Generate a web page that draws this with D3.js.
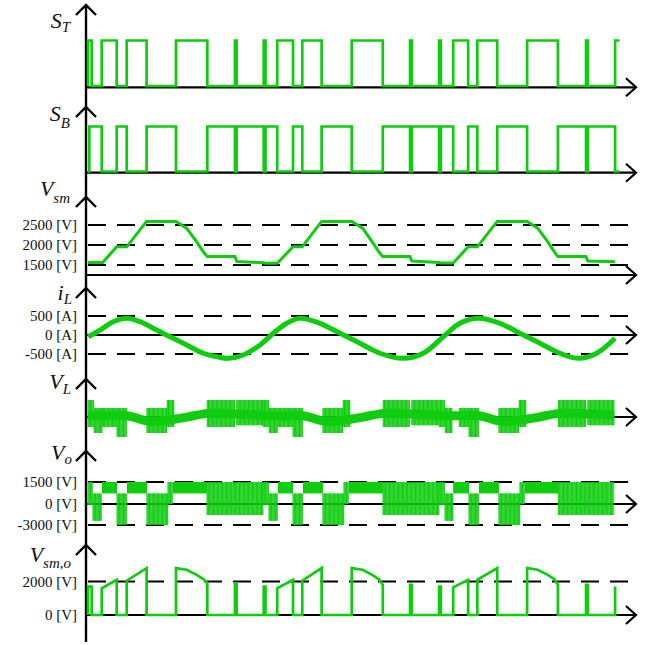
<!DOCTYPE html>
<meta charset="utf-8">
<style>
body {
    margin: 0px;
    background: white;
}
.tick-label {
  font-family: "Liberation Serif", serif;
  font-size: 15px;
  fill: #111;
}
.sig-label {
  font-family: "Liberation Serif", serif;
  font-style: italic;
  fill: #111;
}
</style>
<body>
<script src="https://d3js.org/d3.v7.min.js"></script>
<script>
var width = 652,
    height = 645,
    green = "#0fcc0f"

// time in ms (three 50 Hz cycles)

// intervals where the top switch is on
var stHigh = [[0, 0.42], [1.56, 3.26], [4.40, 6.66], [10.0, 13.56], [16.7, 16.9], [19.97, 20.17],
  [21.5, 23.3], [24.35, 26.55], [29.97, 33.5], [36.6, 36.8], [39.9, 40.1],
  [41.5, 43.2], [44.24, 46.5], [49.9, 53.4], [56.6, 56.8], [59.9, 60.4]]

// intervals where the bottom switch is on
var sbHigh = [[0.15, 1.56], [3.26, 4.40], [6.66, 10.0], [13.56, 16.7], [16.9, 19.97], [20.17, 21.5],
  [23.3, 24.35], [26.55, 29.97], [33.5, 36.6], [36.8, 39.9], [40.1, 41.5],
  [43.2, 44.24], [46.5, 49.9], [53.4, 56.6], [56.8, 59.9]]

// submodule capacitor voltage [t, V]
var vsm = [[0, 1565], [1.67, 1565], [3.26, 1955], [4.40, 1955], [6.66, 2590], [10.0, 2590],
  [11.2, 2420], [12.35, 2080], [13.1, 1830], [13.56, 1710], [16.7, 1710], [16.9, 1590],
  [19.97, 1555], [20.17, 1545], [21.5, 1545], [23.3, 1955], [24.35, 1955], [26.55, 2590],
  [29.97, 2590], [31.2, 2420], [32.3, 2080], [33.05, 1830], [33.5, 1710], [36.6, 1710],
  [36.8, 1600], [39.9, 1560], [40.1, 1550], [41.5, 1550], [43.2, 1955], [44.24, 1955],
  [46.5, 2590], [49.9, 2590], [51.1, 2420], [52.25, 2080], [53.0, 1830], [53.4, 1710],
  [56.6, 1710], [56.8, 1600], [59.9, 1580]]

// inductor current [t, A]
var iL = [[0.03, -45], [1.36, 130], [2.88, 350], [4.40, 440], [5.91, 350], [7.81, 130],
  [9.32, -45], [11.22, -263], [13.10, -480], [14.63, -570], [15.94, -615], [17.65, -526],
  [19.55, -263], [21.06, 45], [22.58, 308], [24.09, 440], [26.36, 308], [28.64, 45],
  [30.91, -218], [33.18, -480], [35.83, -615], [38.10, -480], [40.38, -45], [42.27, 308],
  [44.35, 440], [46.82, 308], [49.09, 45], [51.36, -218], [53.64, -480], [55.72, -615],
  [57.81, -480], [59.89, -87]]

// inductor voltage: slow envelope centre [t, V]
var vlCenter = [[0, 50], [1.6, 50], [3.3, 50], [4.45, 80], [5.6, -50], [6.7, -187], [8.0, -180],
  [9.8, -93], [11.5, 0], [13.55, 187], [16.8, 120], [19.9, 80],
  [20.6, 50], [21.6, 50], [23.3, 50], [24.45, 80], [25.6, -50], [26.7, -187], [28.0, -180],
  [29.8, -93], [31.5, 0], [33.55, 187], [36.8, 120], [39.9, 80],
  [40.6, 50], [41.6, 50], [43.3, 50], [44.45, 80], [45.6, -50], [46.7, -187], [48.0, -180],
  [49.8, -93], [51.5, 0], [53.45, 187], [56.8, 120], [59.8, 80]]

// inductor voltage: switching bursts [t0, t1, high V, low V]
var vlBursts = [[0, 0.7, 680, -400], [0.7, 1.6, 360, -640], [1.6, 3.3, 360, -400], [3.3, 4.45, 360, -800],
  [6.7, 9.0, 360, -640], [9.0, 9.8, 680, -400], [13.55, 16.7, 680, -400], [16.9, 19.9, 680, -330],
  [19.9, 20.6, 680, -400], [20.6, 21.6, 360, -640], [21.6, 23.3, 360, -400], [23.3, 24.45, 360, -800],
  [26.7, 29.0, 360, -640], [29.0, 29.8, 680, -400], [33.55, 36.6, 680, -400], [36.8, 39.9, 680, -330],
  [39.9, 40.6, 680, -400], [40.6, 41.4, 360, -640], [42.2, 43.3, 360, -400], [43.3, 44.45, 360, -800],
  [46.7, 49.0, 360, -640], [49.0, 49.8, 680, -400], [53.45, 56.6, 680, -400], [56.8, 59.8, 680, -330]]

// output voltage blocks [t0, t1, high V, low V, steady]
var voBlocks = [[0, 0.57, 1500, -140, 0], [0.57, 1.59, 720, -2400, 0], [1.59, 3.30, 1500, 720, 1],
  [3.30, 4.43, 720, -3000, 0], [4.43, 6.70, 1500, 720, 1], [6.70, 9.09, 720, -3000, 0],
  [9.09, 9.66, 1500, 0, 0], [9.66, 13.52, 1500, 720, 1], [13.52, 19.89, 1500, -1570, 0],
  [19.89, 20.57, 1500, -140, 0], [20.57, 21.59, 720, -2400, 0], [21.59, 23.30, 1500, 720, 1],
  [23.30, 24.43, 720, -3000, 0], [24.43, 26.70, 1500, 720, 1], [26.70, 29.09, 720, -3000, 0],
  [29.09, 29.66, 1500, 0, 0], [29.66, 33.52, 1500, 720, 1], [33.52, 39.89, 1500, -1570, 0],
  [39.89, 40.57, 1500, -140, 0], [40.57, 41.5, 720, -2400, 0], [41.5, 43.30, 1500, 720, 1],
  [43.30, 44.43, 720, -3000, 0], [44.43, 46.70, 1500, 720, 1], [46.70, 49.09, 720, -3000, 0],
  [49.09, 49.66, 1500, 0, 0], [49.66, 53.45, 1500, 720, 1], [53.45, 59.8, 1500, -1570, 0]]

// submodule output voltage pulses, top edge [t, V]
var vsmoPulses = [
  [[0, 1700], [0.42, 1700]],
  [[1.56, 1600], [3.26, 2100]],
  [[4.40, 2050], [6.66, 2800]],
  [[10.0, 2800], [11.2, 2700], [12.35, 2400], [13.1, 2140], [13.56, 1900]],
  [[16.7, 1840], [16.9, 1840]],
  [[19.97, 1700], [20.17, 1700]],
  [[21.5, 1600], [23.3, 2100]],
  [[24.35, 2050], [26.55, 2800]],
  [[29.97, 2800], [31.2, 2700], [32.3, 2400], [33.05, 2140], [33.5, 1800]],
  [[36.6, 1800], [36.8, 1800]],
  [[39.9, 1700], [40.1, 1700]],
  [[41.5, 1650], [43.2, 2100]],
  [[44.24, 2100], [46.5, 2800]],
  [[49.9, 2800], [51.1, 2700], [52.25, 2400], [53.0, 2140], [53.4, 1800]],
  [[56.6, 1800], [56.8, 1800]],
  [[59.9, 1700]]]

var vsmTicks = [2500, 2000, 1500]
var iLTicks = [500, 0, -500]
var voTicks = [1500, 0, -3000]
var vsmoTicks = [2000, 0]

var svg = d3.select("body").append("svg")
    .attr("width", width)
    .attr("height", height)

var x = d3.scaleLinear().domain([0, 60.4]).range([88, 619.5])
var axisX = 86, arrowX = 636

var yST = d3.scaleLinear().domain([0, 1]).range([86, 40.5])
var ySB = d3.scaleLinear().domain([0, 1]).range([171.5, 126.5])
var yVsm = d3.scaleLinear().domain([1250, 2500]).range([275, 225])
var yIL = d3.scaleLinear().domain([-500, 500]).range([354, 316])
var yVL = d3.scaleLinear().domain([-1000, 1000]).range([442, 392])
var yVo = d3.scaleLinear().domain([-3000, 0, 1500]).range([525, 504, 482])
var yVsmo = d3.scaleLinear().domain([0, 2000]).range([615, 581.5])

var panels = [
  {main: "S", sub: "T", lx: 70, ly: 28, sdy: 4, tip: 5, axisY: 87.3},
  {main: "S", sub: "B", lx: 70, ly: 121, sdy: 7, tip: 107, axisY: 172.7},
  {main: "V", sub: "sm", lx: 70, ly: 196, sdy: 7, tip: 197, axisY: yVsm(1250), y: yVsm, dashed: vsmTicks, ticks: vsmTicks, unit: "V"},
  {main: "i", sub: "L", lx: 72, ly: 300, sdy: 4, tip: 288, axisY: yIL(0), y: yIL, dashed: [500, -500], ticks: iLTicks, unit: "A"},
  {main: "V", sub: "L", lx: 71, ly: 389, sdy: 5, tip: 379, axisY: yVL(0)},
  {main: "V", sub: "o", lx: 72, ly: 460, sdy: 4, tip: 451, axisY: yVo(0), y: yVo, dashed: [1500, -3000], ticks: voTicks, unit: "V"},
  {main: "V", sub: "sm,o", lx: 71, ly: 562, sdy: 6, tip: 545, axisY: yVsmo(0), y: yVsmo, dashed: [2000], ticks: vsmoTicks, unit: "V"}
]

var axes = svg.append("g")
var traces = svg.append("g")
var labels = svg.append("g")

// vertical axis
axes.append("line")
    .attr("x1", axisX).attr("x2", axisX)
    .attr("y1", 5).attr("y2", 642)
    .attr("stroke", "black").attr("stroke-width", 2.4)

panels.forEach(function(p) {
  // up arrow
  axes.append("polyline")
      .attr("points", [[axisX - 10, p.tip + 10], [axisX, p.tip], [axisX + 10, p.tip + 10]].join(" "))
      .attr("fill", "none").attr("stroke", "black").attr("stroke-width", 2.4)

  // time axis with arrow
  axes.append("line")
      .attr("x1", axisX).attr("x2", arrowX)
      .attr("y1", p.axisY).attr("y2", p.axisY)
      .attr("stroke", "black").attr("stroke-width", 2.2)
  axes.append("polyline")
      .attr("points", [[arrowX - 10, p.axisY - 9], [arrowX, p.axisY], [arrowX - 10, p.axisY + 9]].join(" "))
      .attr("fill", "none").attr("stroke", "black").attr("stroke-width", 2.2)

  if (p.dashed) {
    axes.selectAll(null)
        .data(p.dashed)
        .enter().append("line")
        .attr("x1", 88).attr("x2", 637)
        .attr("y1", function(d) { return p.y(d) })
        .attr("y2", function(d) { return p.y(d) })
        .attr("stroke", "black").attr("stroke-width", 2.2)
        .attr("stroke-dasharray", "18,11")
  }

  if (p.ticks) {
    labels.selectAll(null)
        .data(p.ticks)
        .enter().append("text")
        .attr("class", "tick-label")
        .attr("x", 77)
        .attr("y", function(d) { return p.y(d) })
        .attr("dy", "0.35em")
        .attr("text-anchor", "end")
        .text(function(d) { return d + " [" + p.unit + "]" })
  }

  var t = labels.append("text")
      .attr("class", "sig-label")
      .attr("x", p.lx)
      .attr("y", p.ly)
      .attr("text-anchor", "end")
  t.append("tspan").style("font-size", "22px").text(p.main)
  t.append("tspan").style("font-size", "15px").attr("dy", p.sdy).text(p.sub)
})

// switching signals
function stepPoints(intervals) {
  var pts = [[0, 0]]
  intervals.forEach(function(d) {
    pts.push([d[0], 0], [d[0], 1], [d[1], 1])
    if (d[1] < x.domain()[1]) pts.push([d[1], 0])
  })
  var last = pts[pts.length - 1]
  if (last[1] == 0) pts.push([x.domain()[1], 0])
  return pts
}

function drawLine(pts, y, w, curve) {
  var line = d3.line()
      .x(function(d) { return x(d[0]) })
      .y(function(d) { return y(d[1]) })
      .curve(curve || d3.curveLinear)
  traces.append("path")
      .datum(pts)
      .attr("d", line)
      .attr("fill", "none")
      .attr("stroke", green)
      .attr("stroke-width", w)
      .attr("stroke-linejoin", "miter")
}

drawLine(stepPoints(stHigh), yST, 2.7)
drawLine(stepPoints(sbHigh), ySB, 2.7)
drawLine(vsm, yVsm, 3)
drawLine(iL, yIL, 5, d3.curveCatmullRom)

// bursts of fast switching drawn as dense vertical strokes
function hatch(blocks, y) {
  blocks.forEach(function(b) {
    traces.append("rect")
        .attr("x", x(b[0])).attr("width", x(b[1]) - x(b[0]))
        .attr("y", y(b[2])).attr("height", y(b[3]) - y(b[2]))
        .attr("fill", green)
        .attr("opacity", b[4] ? 1 : 0.6)
    if (b[4]) return
    traces.selectAll(null)
        .data(d3.range(x(b[0]), x(b[1]), 1.3))
        .enter().append("line")
        .attr("x1", function(d) { return d }).attr("x2", function(d) { return d })
        .attr("y1", y(b[2])).attr("y2", y(b[3]))
        .attr("stroke", green).attr("stroke-width", 1)
  })
}

hatch(vlBursts, yVL)
drawLine(vlCenter, yVL, 9, d3.curveBasis)
hatch(voBlocks, yVo)

// submodule output voltage
var smo = [[0, 0]]
vsmoPulses.forEach(function(p, i) {
  smo.push([p[0][0], 0])
  p.forEach(function(d) { smo.push(d) })
  if (i < vsmoPulses.length - 1) smo.push([p[p.length - 1][0], 0])
})
drawLine(smo, yVsmo, 2.7)
</script>
